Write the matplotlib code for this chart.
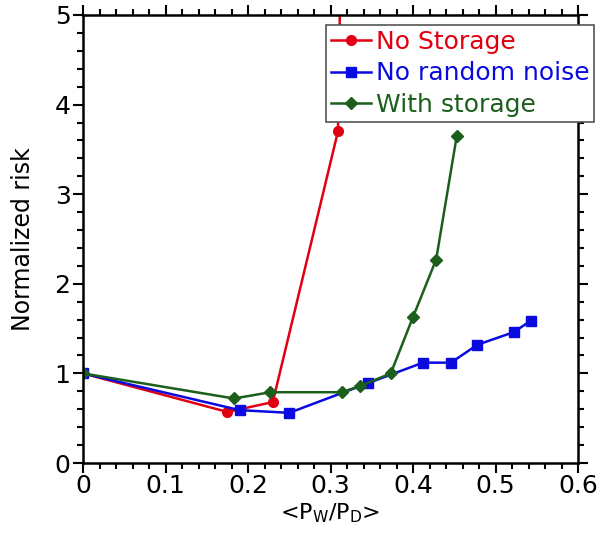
import matplotlib
matplotlib.use("Agg")
import matplotlib.pyplot as plt
from matplotlib.ticker import MultipleLocator

# data
x_nostore = [0.0, 0.175, 0.23, 0.309, 0.313]
y_nostore = [1.0, 0.57, 0.68, 3.70, 6.0]

x_nonoise = [0.0, 0.19, 0.25, 0.345, 0.412, 0.446, 0.478, 0.522, 0.543]
y_nonoise = [1.0, 0.59, 0.56, 0.89, 1.12, 1.12, 1.32, 1.46, 1.59]

x_withstore = [0.0, 0.183, 0.227, 0.314, 0.336, 0.373, 0.40, 0.428, 0.453]
y_withstore = [1.0, 0.72, 0.79, 0.79, 0.86, 1.0, 1.63, 2.27, 3.65]

red = "#e00010"
blue = "#0a0ae0"
green = "#1c5e1c"

fig = plt.figure(figsize=(5.99, 5.33), dpi=100)
ax = fig.add_axes([0.1386, 0.1313, 0.8264, 0.8406])

ax.plot(x_nostore, y_nostore, color=red, lw=1.8, marker="o", ms=7, label="No Storage")
ax.plot(x_nonoise, y_nonoise, color=blue, lw=1.8, marker="s", ms=7, label="No random noise")
ax.plot(x_withstore, y_withstore, color=green, lw=1.8, marker="D", ms=6, label="With storage")

ax.set_xlim(0, 0.6)
ax.set_ylim(0, 5)
ax.xaxis.set_minor_locator(MultipleLocator(0.02))
ax.yaxis.set_minor_locator(MultipleLocator(0.2))
ax.set_xticks([0, 0.1, 0.2, 0.3, 0.4, 0.5, 0.6])
ax.set_xticklabels(["0", "0.1", "0.2", "0.3", "0.4", "0.5", "0.6"])
ax.set_yticks([0, 1, 2, 3, 4, 5])
ax.set_yticklabels(["0", "1", "2", "3", "4", "5"])

ax.tick_params(which="both", direction="out", top=True, right=True, width=1.5, labelsize=18)
ax.tick_params(which="major", length=7)
ax.tick_params(which="minor", length=4)
ax.tick_params(axis="x", pad=1)
ax.tick_params(axis="y", pad=2)
for s in ax.spines.values():
    s.set_linewidth(1.8)

ax.set_xlabel(r"<P$_\mathregular{W}$/P$_\mathregular{D}$>", fontsize=16, labelpad=2)
ax.set_ylabel("Normalized risk", fontsize=17, labelpad=14)

leg = ax.legend(loc="upper left", bbox_to_anchor=(0.49, 0.978), fontsize=18,
                frameon=True, fancybox=False, edgecolor="#555555", framealpha=1,
                handlelength=1.6, handletextpad=0.2, borderpad=0.2, labelspacing=0.3,
                borderaxespad=0)
leg.get_frame().set_linewidth(1.2)
for t, c in zip(leg.get_texts(), [red, blue, green]):
    t.set_color(c)

fig.savefig("out.png", dpi=100)
